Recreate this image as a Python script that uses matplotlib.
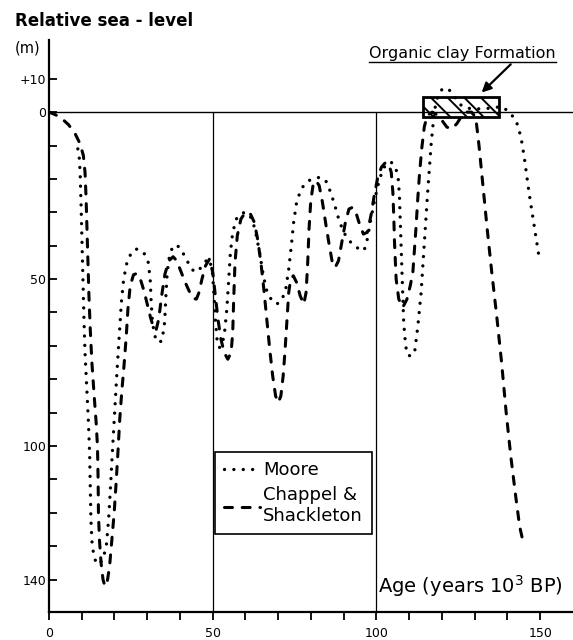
import matplotlib.pyplot as plt
from matplotlib.patches import Rectangle

# age in 10^3 years BP, depth in m below present sea level
moore_age = [8.8, 9.2, 9.5, 9.8, 10.1, 10.4, 10.7, 11.0, 11.5, 12.0,
             12.4, 12.6, 12.8, 13.2, 14.0, 15.2, 16.4, 17.5, 18.2, 18.8,
             19.4, 20.1, 20.8, 21.5, 22.1, 22.8, 23.8, 25.2, 26.5, 27.8,
             29.2, 30.3, 30.9, 31.2, 31.6, 32.3, 33.3, 34.5, 35.3, 35.7,
             36.1, 36.8, 37.8, 39.0, 40.3, 41.6, 43.0, 44.3, 45.6, 46.8,
             48.0, 49.0, 49.9, 50.4, 50.8, 51.3, 52.0, 52.8, 53.6, 54.3,
             54.9, 55.4, 56.1, 57.2, 58.5, 59.8, 61.0, 62.2, 63.3, 64.3,
             65.3, 66.3, 67.8, 69.5, 71.0, 72.3, 73.2, 74.0, 74.7, 75.6,
             77.0, 78.8, 80.8, 83.0, 84.5, 86.0, 87.3, 88.6, 90.0, 91.3,
             92.6, 93.8, 95.0, 96.2, 97.2, 98.3, 99.5, 100.8, 102.0, 103.2,
             104.5, 105.8, 106.6, 107.0, 107.3, 107.8, 108.3, 108.9, 109.5, 110.5,
             111.6, 112.6, 113.6, 114.6, 115.6, 116.7, 117.7, 118.8, 120.2, 121.8,
             123.3, 124.8, 126.5, 129.0, 132.0, 135.0, 137.0, 138.5, 140.5, 142.6,
             144.1, 145.1, 146.6, 148.2, 149.7]
moore_depth = [11, 13, 18, 28, 40, 52, 63, 72, 82, 92,
               102, 112, 122, 130, 134, 135.5, 134, 130, 122, 112,
               101, 89, 77, 66, 57, 50, 45, 42, 41, 41.2,
               42.5, 45, 50, 57, 63, 67, 69, 68.5, 63, 55,
               48, 43, 40.2, 39.8, 41, 43.5, 46, 47.8, 47.5, 46,
               44.5, 44, 48, 55, 62, 68, 70.5, 70, 66, 59,
               50, 42, 36, 32, 30.5, 30, 30.5, 32.5, 37, 42,
               48, 53, 56, 57.5, 56.5, 53, 47, 40, 33, 27,
               23, 20.8, 19.8, 19.5, 20.5, 24, 28, 32.5, 36, 38,
               39.5, 40.5, 41, 41.5, 38, 32, 26, 20.5, 17, 15.3,
               15, 16.5, 19.5, 25, 34, 50, 63, 70, 72.8, 73,
               72.2, 64.3, 54.3, 39.3, 24.3, 9.4, -0.6, -5, -7.1, -7,
               -5.6, -3, -1.5, -1, -1, -1.2, -1.5, -1.6, 0, 2.4,
               7.4, 13.4, 24.3, 34.3, 43.8]

cs_age = [0, 2, 4, 6, 8, 9.5, 10.5, 11.0, 11.3, 11.6,
          11.9, 12.2, 12.6, 13.1, 13.8, 14.4, 14.8, 15.0, 15.1, 15.4,
          15.9, 16.5, 17.1, 17.8, 18.5, 19.2, 19.9, 20.5, 21.1, 21.6,
          22.2, 22.9, 23.6, 24.1, 24.8, 25.8, 26.8, 27.9, 29.0, 30.0,
          31.0, 31.9, 32.7, 33.5, 34.4, 35.4, 36.6, 37.9, 39.0, 40.2,
          41.6, 43.0, 44.2, 45.0, 45.8, 46.7, 47.8, 49.0, 50.0, 50.8,
          51.6, 52.5, 53.5, 54.6, 55.6, 56.1, 56.4, 56.8, 57.5, 58.6,
          60.0, 61.5, 62.7, 63.7, 64.7, 65.6, 66.5, 67.4, 68.3, 69.2,
          70.0, 70.8, 71.5, 72.1, 72.7, 73.2, 73.8, 74.6, 75.6, 76.7,
          77.8, 78.5, 79.0, 79.4, 79.9, 80.6, 81.5, 82.5, 83.5, 84.6,
          85.6, 86.6, 87.4, 88.4, 89.4, 90.5, 91.6, 92.7, 93.7, 94.8,
          96.0, 97.2, 98.3, 99.3, 100.3, 101.5, 102.8, 103.8, 104.5, 105.0,
          105.3, 105.5, 106.0, 106.8, 108.0, 109.3, 110.3, 111.1, 111.6, 112.1,
          112.6, 113.1, 113.8, 114.6, 115.5, 117.0, 118.5, 120.0, 121.5, 123.0,
          124.5, 126.0, 127.5, 129.0, 130.3, 131.3, 132.5, 133.8, 135.2, 136.7,
          138.2, 139.6, 141.0, 142.5, 143.7, 144.6]
cs_depth = [0, 0.8, 2, 3.8, 6.5, 9.5, 13, 18, 25, 35,
            45, 55, 65, 75, 85, 93, 100, 110, 120, 128,
            135, 140, 142, 140.5, 136, 128, 120, 111, 101, 92,
            84, 76, 67, 59, 52, 48.7, 48.3, 50, 53.5, 57.5,
            61.5, 64.5, 65.3, 62, 55, 48.5, 44.5, 43.3, 44.5, 47.5,
            51, 54, 55.8, 56, 54, 50, 46, 44, 48, 55,
            62, 68, 72, 74, 72, 66, 56, 45, 37, 32,
            30, 30.5, 33, 38, 45, 53, 62, 71, 79, 85,
            87, 85, 79, 71, 62, 54, 50, 49, 51, 55,
            57.5, 54, 45, 35, 27, 22, 20.5, 22, 27, 34,
            40, 45.5, 46.5, 44.5, 39, 33, 29, 28.5, 30, 33.5,
            36.5, 36, 31, 25, 20, 16.5, 15, 15.8, 18, 24,
            32, 39, 50, 56, 58.5, 56, 52, 48, 41, 34,
            26, 19, 11, 4.4, 1, 0, 0.8, 2.5, 4.5, 5,
            3.5, 1.2, 0, 0, 1.5, 10, 22, 35, 48, 61,
            75, 90, 103, 115, 124, 128]

# organic clay formation (age span, level span)
clay_age = [114.1, 137.5]
clay_depth = [-4.4, 1.4]

x_ticks = list(range(0, 151, 10))
x_labels = ['0', '', '', '', '', '50', '', '', '', '', '100', '', '', '', '', '150']
y_ticks = list(range(-10, 141, 10))
y_labels = ['+10', '0', '', '', '', '', '50', '', '', '', '', '100', '', '', '', '140']

plt.rcParams['font.family'] = 'DejaVu Sans'
plt.rcParams['hatch.linewidth'] = 1.4

fig = plt.figure(figsize=(5.73, 6.4), dpi=100)
ax = fig.add_axes([0.0855, 0.0442, 0.9145, 0.8933])
ax.set_xlim(0, 160)
ax.set_ylim(149.6, -21.6)

for s in ['top', 'right']:
    ax.spines[s].set_visible(False)
for s in ['left', 'bottom']:
    ax.spines[s].set_linewidth(1.6)

ax.axhline(0, color='k', lw=1.0, zorder=1)
ax.vlines([50, 100], 0, 149.6, color='k', lw=0.9, zorder=1)

ax.set_xticks(x_ticks)
ax.set_xticklabels(x_labels)
ax.set_yticks(y_ticks)
ax.set_yticklabels(y_labels)
ax.tick_params(axis='x', direction='out', length=6, width=1.3, pad=5, labelsize=9)
ax.tick_params(axis='y', direction='in', length=6, width=1.3, pad=2, labelsize=9)

ax.plot(moore_age, moore_depth, color='k', lw=2.4, linestyle=(0, (0.01, 2.8)),
        dash_capstyle='round', label='Moore', zorder=2)
ax.plot(cs_age, cs_depth, color='k', lw=2.2, linestyle=(0, (2.6, 3.2)),
        dash_capstyle='round', label='Chappel &\nShackleton', zorder=2)

box = Rectangle((clay_age[0], clay_depth[0]), clay_age[1] - clay_age[0],
                clay_depth[1] - clay_depth[0], facecolor='none', edgecolor='k',
                lw=2.0, hatch='\\\\', zorder=3)
ax.add_patch(box)

txt = ax.text(126.2, -16.3, 'Organic clay Formation', ha='center', va='baseline',
              fontsize=11.5)
ax.annotate('', xy=(131.5, -5.3), xytext=(141.6, -14.9),
            arrowprops=dict(arrowstyle='-|>', color='k', lw=1.6, mutation_scale=14))

ax.text(100.4, 142, 'Age (years 10$^3$ BP)', ha='left', va='center', fontsize=14)

leg = ax.legend(loc='upper left', bbox_to_anchor=(0.317, 0.279), borderaxespad=0,
                fontsize=13, frameon=True, fancybox=False, edgecolor='k', framealpha=1,
                handlelength=2.0, handletextpad=0.15, borderpad=0.5, labelspacing=0.4)
leg.get_frame().set_linewidth(1.2)

fig.text(15 / 573, 1 - 21 / 640, 'Relative sea - level', ha='left', va='center',
         fontsize=12, fontweight='bold')
fig.text(15 / 573, 1 - 48 / 640, '(m)', ha='left', va='center', fontsize=10.5)

# underline the formation label
fig.canvas.draw()
bb = txt.get_window_extent().transformed(ax.transData.inverted())
ax.plot([bb.x0, bb.x1], [-15.0, -15.0], color='k', lw=1.0)

fig.savefig('out.png', dpi=100)
